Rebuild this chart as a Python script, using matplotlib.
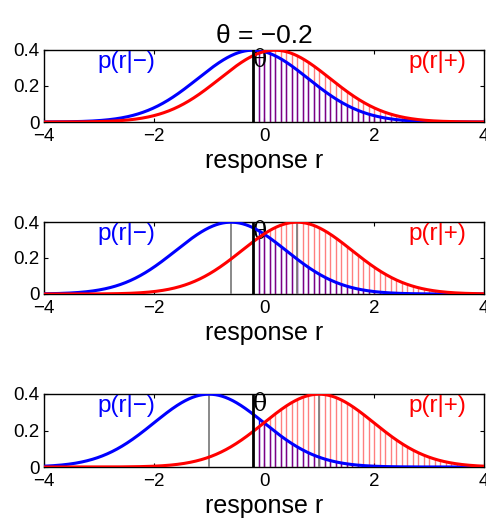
import numpy as np
import matplotlib
matplotlib.use("Agg")
import matplotlib.pyplot as plt

plt.rcParams['font.family'] = ['Liberation Sans', 'DejaVu Sans']

theta = -0.2
half_sep = [0.2, 0.6, 1.0]      # means of the two classes are -d and +d
sigma = 1.0
xticks = [-4, -2, 0, 2, 4]
yticks = [0, 0.2, 0.4]
ytick_labels = ['0', '0.2', '0.4']
stem_step = 0.1


def pdf(x, mu):
    return np.exp(-0.5 * ((x - mu) / sigma) ** 2) / (sigma * np.sqrt(2 * np.pi))


fig = plt.figure(figsize=(4.86, 5.21), dpi=100)
tops = [50, 222, 394]
bottoms = [122, 294, 467]
W, H = 486, 521
x = np.linspace(-4, 4, 801)
stems = np.arange(theta + stem_step, 4.0, stem_step)

for i, d in enumerate(half_sep):
    ax = fig.add_axes([44 / W, 1 - bottoms[i] / H, (484 - 44) / W, (bottoms[i] - tops[i]) / H])
    mneg, mpos = -d, d

    # hit / false-alarm areas shown as stems right of the criterion
    ax.vlines(stems, 0, pdf(stems, mneg), color='blue', lw=1.0, zorder=2)
    ax.vlines(stems, 0, pdf(stems, mpos), color='red', lw=1.0, alpha=0.5, zorder=3)

    if i > 0:
        ax.vlines([mneg, mpos], 0, 0.4, color='0.5', lw=1.3, zorder=3)

    ax.plot(x, pdf(x, mneg), color='blue', lw=2.2, zorder=4)
    ax.plot(x, pdf(x, mpos), color='red', lw=2.2, zorder=5)
    ax.axvline(theta, color='black', lw=2, zorder=6)

    ax.text(-2.5, 0.335, 'p(r|\u2212)', color='blue', fontsize=17.5, ha='center', va='center')
    ax.text(3.15, 0.335, 'p(r|+)', color='red', fontsize=17.5, ha='center', va='center')
    ax.text(theta - 0.01, 0.34, '\u03b8', color='black', fontsize=17, ha='left', va='center',
            family=['DejaVu Serif'])

    ax.set_xlim(-4, 4)
    ax.set_ylim(0, 0.4)
    ax.set_xticks(xticks)
    ax.set_xticklabels([str(t).replace('-', '\u2212') for t in xticks])
    ax.set_yticks(yticks)
    ax.set_yticklabels(ytick_labels)
    ax.tick_params(direction='in', top=True, right=True, labelsize=13.5, length=3)
    ax.tick_params(axis='x', pad=4)
    ax.tick_params(axis='y', pad=3)
    ax.set_xlabel('response r', fontsize=18, labelpad=3)
    for s in ax.spines.values():
        s.set_linewidth(1.0)

    if i == 0:
        ax.set_title('\u03b8 = \u22120.2', fontsize=19, pad=5)

fig.savefig('out.png', dpi=100)
